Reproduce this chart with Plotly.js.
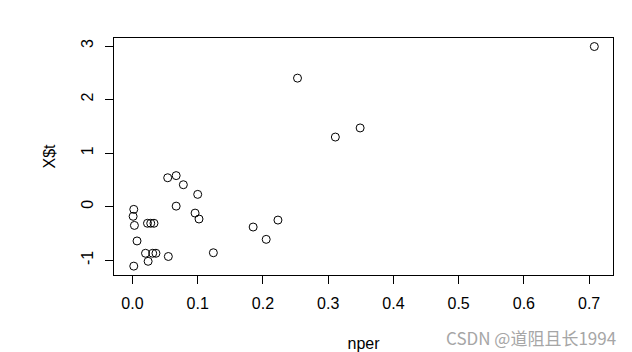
<!DOCTYPE html>
<html>
<head>
<meta charset="utf-8">
<script src="https://cdn.plot.ly/plotly-3.0.1.min.js"></script>
<style>html,body{margin:0;padding:0;background:#fff;}#chart{width:632px;height:352px;}</style>
</head>
<body>
<div id="chart"></div>
<script>
const nper = [0.002, 0.001, 0.003, 0.007, 0.002, 0.023, 0.028, 0.033, 0.020, 0.024, 0.031, 0.036,
              0.054, 0.067, 0.078, 0.100, 0.067, 0.096, 0.102, 0.055, 0.124, 0.185, 0.223, 0.205,
              0.253, 0.311, 0.349, 0.708];
const Xt = [-0.05, -0.18, -0.35, -0.64, -1.11, -0.31, -0.31, -0.31, -0.87, -1.02, -0.87, -0.87,
            0.54, 0.58, 0.41, 0.23, 0.01, -0.12, -0.23, -0.93, -0.86, -0.38, -0.25, -0.61,
            2.40, 1.30, 1.47, 2.99];
const xTicks = [0, 0.1, 0.2, 0.3, 0.4, 0.5, 0.6, 0.7];
const xTickText = ["0.0", "0.1", "0.2", "0.3", "0.4", "0.5", "0.6", "0.7"];
const yTicks = [-1, 0, 1, 2, 3];
const yTickText = ["-1", "0", "1", "2", "3"];

const font = {family: "Liberation Sans, Arial, sans-serif", size: 16, color: "#000"};

const trace = {
  x: nper, y: Xt, type: "scatter", mode: "markers",
  marker: {symbol: "circle-open", size: 8, color: "#000", line: {width: 1, color: "#000"}},
  hoverinfo: "none"
};

const layout = {
  width: 632, height: 352,
  margin: {l: 114, r: 19, t: 38, b: 77},
  paper_bgcolor: "#fff", plot_bgcolor: "#fff",
  font: font,
  showlegend: false,
  xaxis: {
    range: [-0.0283, 0.7366], tickvals: xTicks, ticktext: xTickText,
    ticks: "outside", ticklen: 8, tickwidth: 1, tickcolor: "#000",
    ticklabelstandoff: 6,
    showline: true, linecolor: "#000", linewidth: 1, mirror: true,
    showgrid: false, zeroline: false,
    title: {text: "nper", font: font, standoff: 26},
    tickfont: font
  },
  yaxis: {
    range: [-1.2757, 3.1495], tickvals: yTicks, ticktext: yTickText, tickangle: -90,
    ticks: "outside", ticklen: 8, tickwidth: 1, tickcolor: "#000",
    ticklabelstandoff: 6,
    showline: true, linecolor: "#000", linewidth: 1, mirror: true,
    showgrid: false, zeroline: false,
    title: {text: "X$t", font: font, standoff: 18},
    tickfont: font
  },
  annotations: [{
    text: "CSDN @道阻且长1994", xref: "paper", yref: "paper",
    x: 1.01, y: -0.263, xanchor: "right", yanchor: "middle", showarrow: false,
    font: {family: "Noto Sans CJK SC, Liberation Sans, sans-serif", size: 17, color: "#a6a6a6"}
  }]
};

Plotly.newPlot("chart", [trace], layout, {staticPlot: true, displayModeBar: false});
</script>
</body>
</html>
